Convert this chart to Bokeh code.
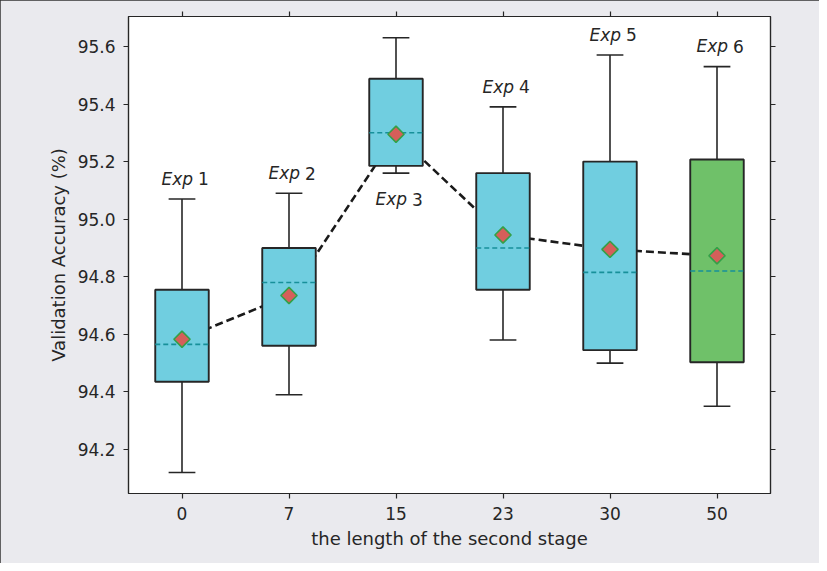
import numpy as np
from bokeh.plotting import figure
from bokeh.models import ColumnDataSource, FixedTicker, LinearAxis, Range1d, PrintfTickFormatter
from bokeh.core.properties import value
from bokeh.embed import file_html
from bokeh.resources import INLINE

# ---- data ----
stage_lengths = ["0", "7", "15", "23", "30", "50"]
exp_names = ["1", "2", "3", "4", "5", "6"]
whisker_low = [94.12, 94.39, 95.16, 94.58, 94.50, 94.35]
q1 = [94.435, 94.56, 95.185, 94.755, 94.545, 94.503]
median = [94.565, 94.78, 95.30, 94.90, 94.815, 94.82]
q3 = [94.755, 94.90, 95.488, 95.16, 95.20, 95.207]
whisker_high = [95.07, 95.09, 95.63, 95.39, 95.57, 95.53]
mean = [94.583, 94.735, 95.295, 94.945, 94.895, 94.873]
label_above = [True, True, False, True, True, True]
y_ticks = [94.2, 94.4, 94.6, 94.8, 95.0, 95.2, 95.4, 95.6]

box_colors = ["#70cee0"] * 5 + ["#6fc169"]
FONT = "DejaVu Sans"
FS = "17px"
DARK = "#262626"

x = np.arange(len(stage_lengths))
box_w = 0.5
cap_w = 0.25

src = ColumnDataSource(dict(
    x=x, lo=whisker_low, q1=q1, med=median, q3=q3, hi=whisker_high, mean=mean,
    color=box_colors,
    xl=x - box_w / 2, xr=x + box_w / 2,
    cl=x - cap_w / 2, cr=x + cap_w / 2,
))

lab_y = [h + 0.07 if a else l - 0.09 for h, l, a in zip(whisker_high, whisker_low, label_above)]
lab_src = ColumnDataSource(dict(x=x, y=lab_y, exp=["Exp"] * len(x), num=exp_names))

p = figure(width=819, height=563, output_backend="svg", toolbar_location=None,
           x_range=Range1d(-0.5, 5.5), y_range=Range1d(94.047, 95.704),
           min_border_left=128, min_border_right=49, min_border_top=16, min_border_bottom=70,
           background_fill_color="white", border_fill_color="#eaeaee")
p.styles = {"outline": "1.5px solid #333333", "outline-offset": "-1.5px"}
p.outline_line_color = DARK
p.outline_line_width = 1.2
p.xgrid.visible = False
p.ygrid.visible = False

# axes
def style_axis(ax, show_labels=True):
    ax.axis_line_color = DARK
    ax.axis_line_width = 1.2
    ax.major_tick_line_color = DARK
    ax.major_tick_line_width = 1.2
    ax.major_tick_out = 5
    ax.major_tick_in = 0
    ax.minor_tick_line_color = None
    ax.major_label_text_font = FONT
    ax.major_label_text_font_size = FS if show_labels else "0px"
    ax.major_label_text_color = "#262626"
    ax.major_label_standoff = 8 if show_labels else 0
    ax.axis_label_text_font = FONT
    ax.axis_label_text_font_size = "18px"
    ax.axis_label_text_font_style = "normal"
    ax.axis_label_text_color = "#262626"

xt = FixedTicker(ticks=list(x))
yt = FixedTicker(ticks=y_ticks)
overrides = {int(i): s for i, s in zip(x, stage_lengths)}

xa = p.xaxis[0]
xa.ticker = xt
xa.major_label_overrides = overrides
xa.axis_label = "the length of the second stage"
xa.axis_label_standoff = 5
style_axis(xa)

ya = p.yaxis[0]
ya.ticker = yt
ya.formatter = PrintfTickFormatter(format="%.1f")
ya.axis_label = "Validation Accuracy (%)"
ya.axis_label_standoff = 6
style_axis(ya)

top = LinearAxis(ticker=FixedTicker(ticks=list(x)))
style_axis(top, False)
top.major_label_text_color = None
p.add_layout(top, "above")

right = LinearAxis(ticker=FixedTicker(ticks=y_ticks))
style_axis(right, False)
right.major_label_text_color = None
p.add_layout(right, "right")

# mean connecting line (under boxes)
p.line("x", "mean", source=src, line_color="#1a1a1a", line_width=2.6, line_dash="8 4")

# whiskers
p.segment("x", "q3", "x", "hi", source=src, line_color=DARK, line_width=1.6)
p.segment("x", "q1", "x", "lo", source=src, line_color=DARK, line_width=1.6)
p.segment("cl", "hi", "cr", "hi", source=src, line_color=DARK, line_width=1.6)
p.segment("cl", "lo", "cr", "lo", source=src, line_color=DARK, line_width=1.6)

# boxes
p.vbar(x="x", width=box_w, bottom="q1", top="q3", source=src,
       fill_color="color", line_color=DARK, line_width=1.9)

# medians
p.segment("xl", "med", "xr", "med", source=src, line_color="#17909a",
          line_width=1.6, line_dash="5 3")

# means
p.scatter("x", "mean", source=src, marker="square", angle=np.pi / 4, size=11.5,
          fill_color="#d55f5a", line_color="#34a048", line_width=1.6)

# labels: italic "Exp" + upright number
p.text("x", "y", text="exp", source=lab_src, text_font=value(FONT), text_font_size=FS,
       text_font_style="italic", text_align="right", text_baseline="middle",
       x_offset=11, text_color="#262626")
p.text("x", "y", text="num", source=lab_src, text_font=value(FONT), text_font_size=FS,
       text_align="left", text_baseline="middle", x_offset=16, text_color="#262626")

open("out.html", "w").write(file_html(p, INLINE))
